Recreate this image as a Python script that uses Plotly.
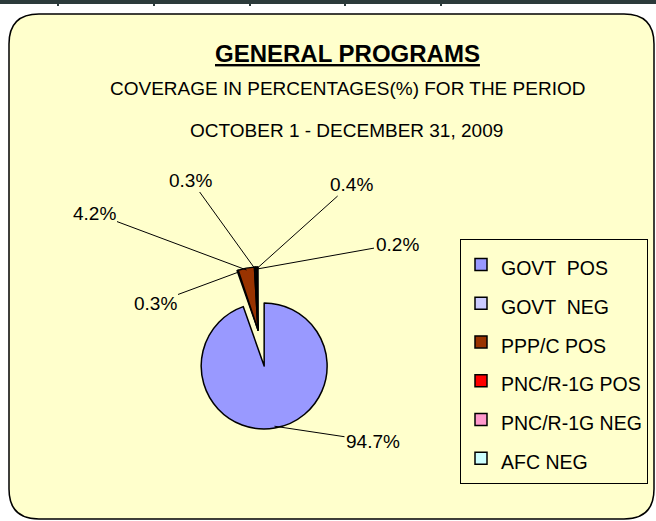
import math
import plotly.graph_objects as go

# ---- data ----
labels = ["GOVT  POS", "GOVT  NEG", "PPP/C POS", "PNC/R-1G POS", "PNC/R-1G NEG", "AFC NEG"]
values = [94.7, 0.3, 4.2, 0.3, 0.4, 0.2]
colors = ["#9999FF", "#CCCCFF", "#993300", "#FF0000", "#FF99CC", "#CCFFFF"]
pulls = [0.58, 0, 0, 0, 0, 0]

title = "GENERAL PROGRAMS"
subtitle1 = "COVERAGE IN PERCENTAGES(%) FOR THE PERIOD"
subtitle2 = "OCTOBER 1 - DECEMBER 31, 2009"

# ---- layout geometry (pixels) ----
W, H = 656, 521
FONT = "Liberation Sans, Arial, sans-serif"
px0, py0, px1, py1 = 158.5, 230.5, 357.5, 429.5   # pie domain box
label_pos = [(373, 441), (155, 303), (94, 213), (191, 180), (351, 184), (397, 244)]


def xp(x):
    return x / W


def yp(y):
    return 1 - y / H


legend_labels = [f'<span style="font-size:19.5px">{s}</span>' for s in labels]

fig = go.Figure()
fig.add_trace(go.Pie(
    labels=legend_labels, values=values, sort=False, direction="clockwise", rotation=0,
    pull=pulls, textinfo="none", hoverinfo="label+percent",
    marker=dict(colors=colors, line=dict(color="black", width=1.5)),
    domain=dict(x=[xp(px0), xp(px1)], y=[yp(py1), yp(py0)]),
    showlegend=True,
))

# leader-line labels pointing at slice middles
total = sum(values)
cx, cy = (px0 + px1) / 2, (py0 + py1) / 2
r = min(px1 - px0, py1 - py0) / (2 + 2 * max(pulls))
annotations = []
cum = 0
for i, v in enumerate(values):
    ang = (cum + v / 2) / total * 2 * math.pi
    cum += v
    dx, dy = math.sin(ang), -math.cos(ang)
    dist = pulls[i] * r + 0.97 * r
    tx, ty = cx + dist * dx, cy + dist * dy
    lx, ly = label_pos[i]
    annotations.append(dict(
        x=xp(tx), y=yp(ty), xref="paper", yref="paper",
        text=f"{v:.1f}%", showarrow=True, arrowhead=0, arrowwidth=1,
        arrowcolor="black", standoff=0, ax=lx - tx, ay=ly - ty,
        font=dict(family=FONT, size=19, color="black"),
    ))

annotations += [
    dict(x=xp(347), y=yp(54), xref="paper", yref="paper", showarrow=False,
         xanchor="center", yanchor="middle",
         text=f"<b><u>{title}</u></b>", font=dict(family=FONT, size=24, color="black")),
    dict(x=xp(347), y=yp(88), xref="paper", yref="paper", showarrow=False,
         xanchor="center", yanchor="middle",
         text=subtitle1, font=dict(family=FONT, size=19, color="black")),
    dict(x=xp(346), y=yp(130), xref="paper", yref="paper", showarrow=False,
         xanchor="center", yanchor="middle",
         text=subtitle2, font=dict(family=FONT, size=19, color="black")),
]

# rounded frame
L, T, R, B, rad = 9, 14, 654, 519, 30
path = (f"M {xp(L + rad)},{yp(T)} L {xp(R - rad)},{yp(T)} Q {xp(R)},{yp(T)} {xp(R)},{yp(T + rad)} "
        f"L {xp(R)},{yp(B - rad)} Q {xp(R)},{yp(B)} {xp(R - rad)},{yp(B)} "
        f"L {xp(L + rad)},{yp(B)} Q {xp(L)},{yp(B)} {xp(L)},{yp(B - rad)} "
        f"L {xp(L)},{yp(T + rad)} Q {xp(L)},{yp(T)} {xp(L + rad)},{yp(T)} Z")
shapes = [
    dict(type="path", path=path, xref="paper", yref="paper", layer="below",
         fillcolor="#FFFFCC", line=dict(color="black", width=1.5)),
    dict(type="rect", xref="paper", yref="paper", x0=0, x1=1, y0=yp(4), y1=1,
         fillcolor="#2B3A3A", line=dict(width=0), layer="below"),
]
for tx in [58, 154, 250, 345, 441]:
    shapes.append(dict(type="rect", xref="paper", yref="paper", x0=xp(tx - 1), x1=xp(tx + 1),
                       y0=yp(6), y1=1, fillcolor="#2B3A3A", line=dict(width=0), layer="below"))

fig.update_layout(
    width=W, height=H, margin=dict(l=0, r=0, t=0, b=0, autoexpand=False),
    paper_bgcolor="white", plot_bgcolor="white",
    annotations=annotations, shapes=shapes,
    legend=dict(x=xp(460), y=yp(239), xanchor="left", yanchor="top",
                bgcolor="#FFFFCC", bordercolor="black", borderwidth=1,
                font=dict(family=FONT, size=27.5, color="black"),
                traceorder="normal"),
)

fig.write_html("out.html", config={"displayModeBar": False},
               post_script="document.body.style.margin='0';")
